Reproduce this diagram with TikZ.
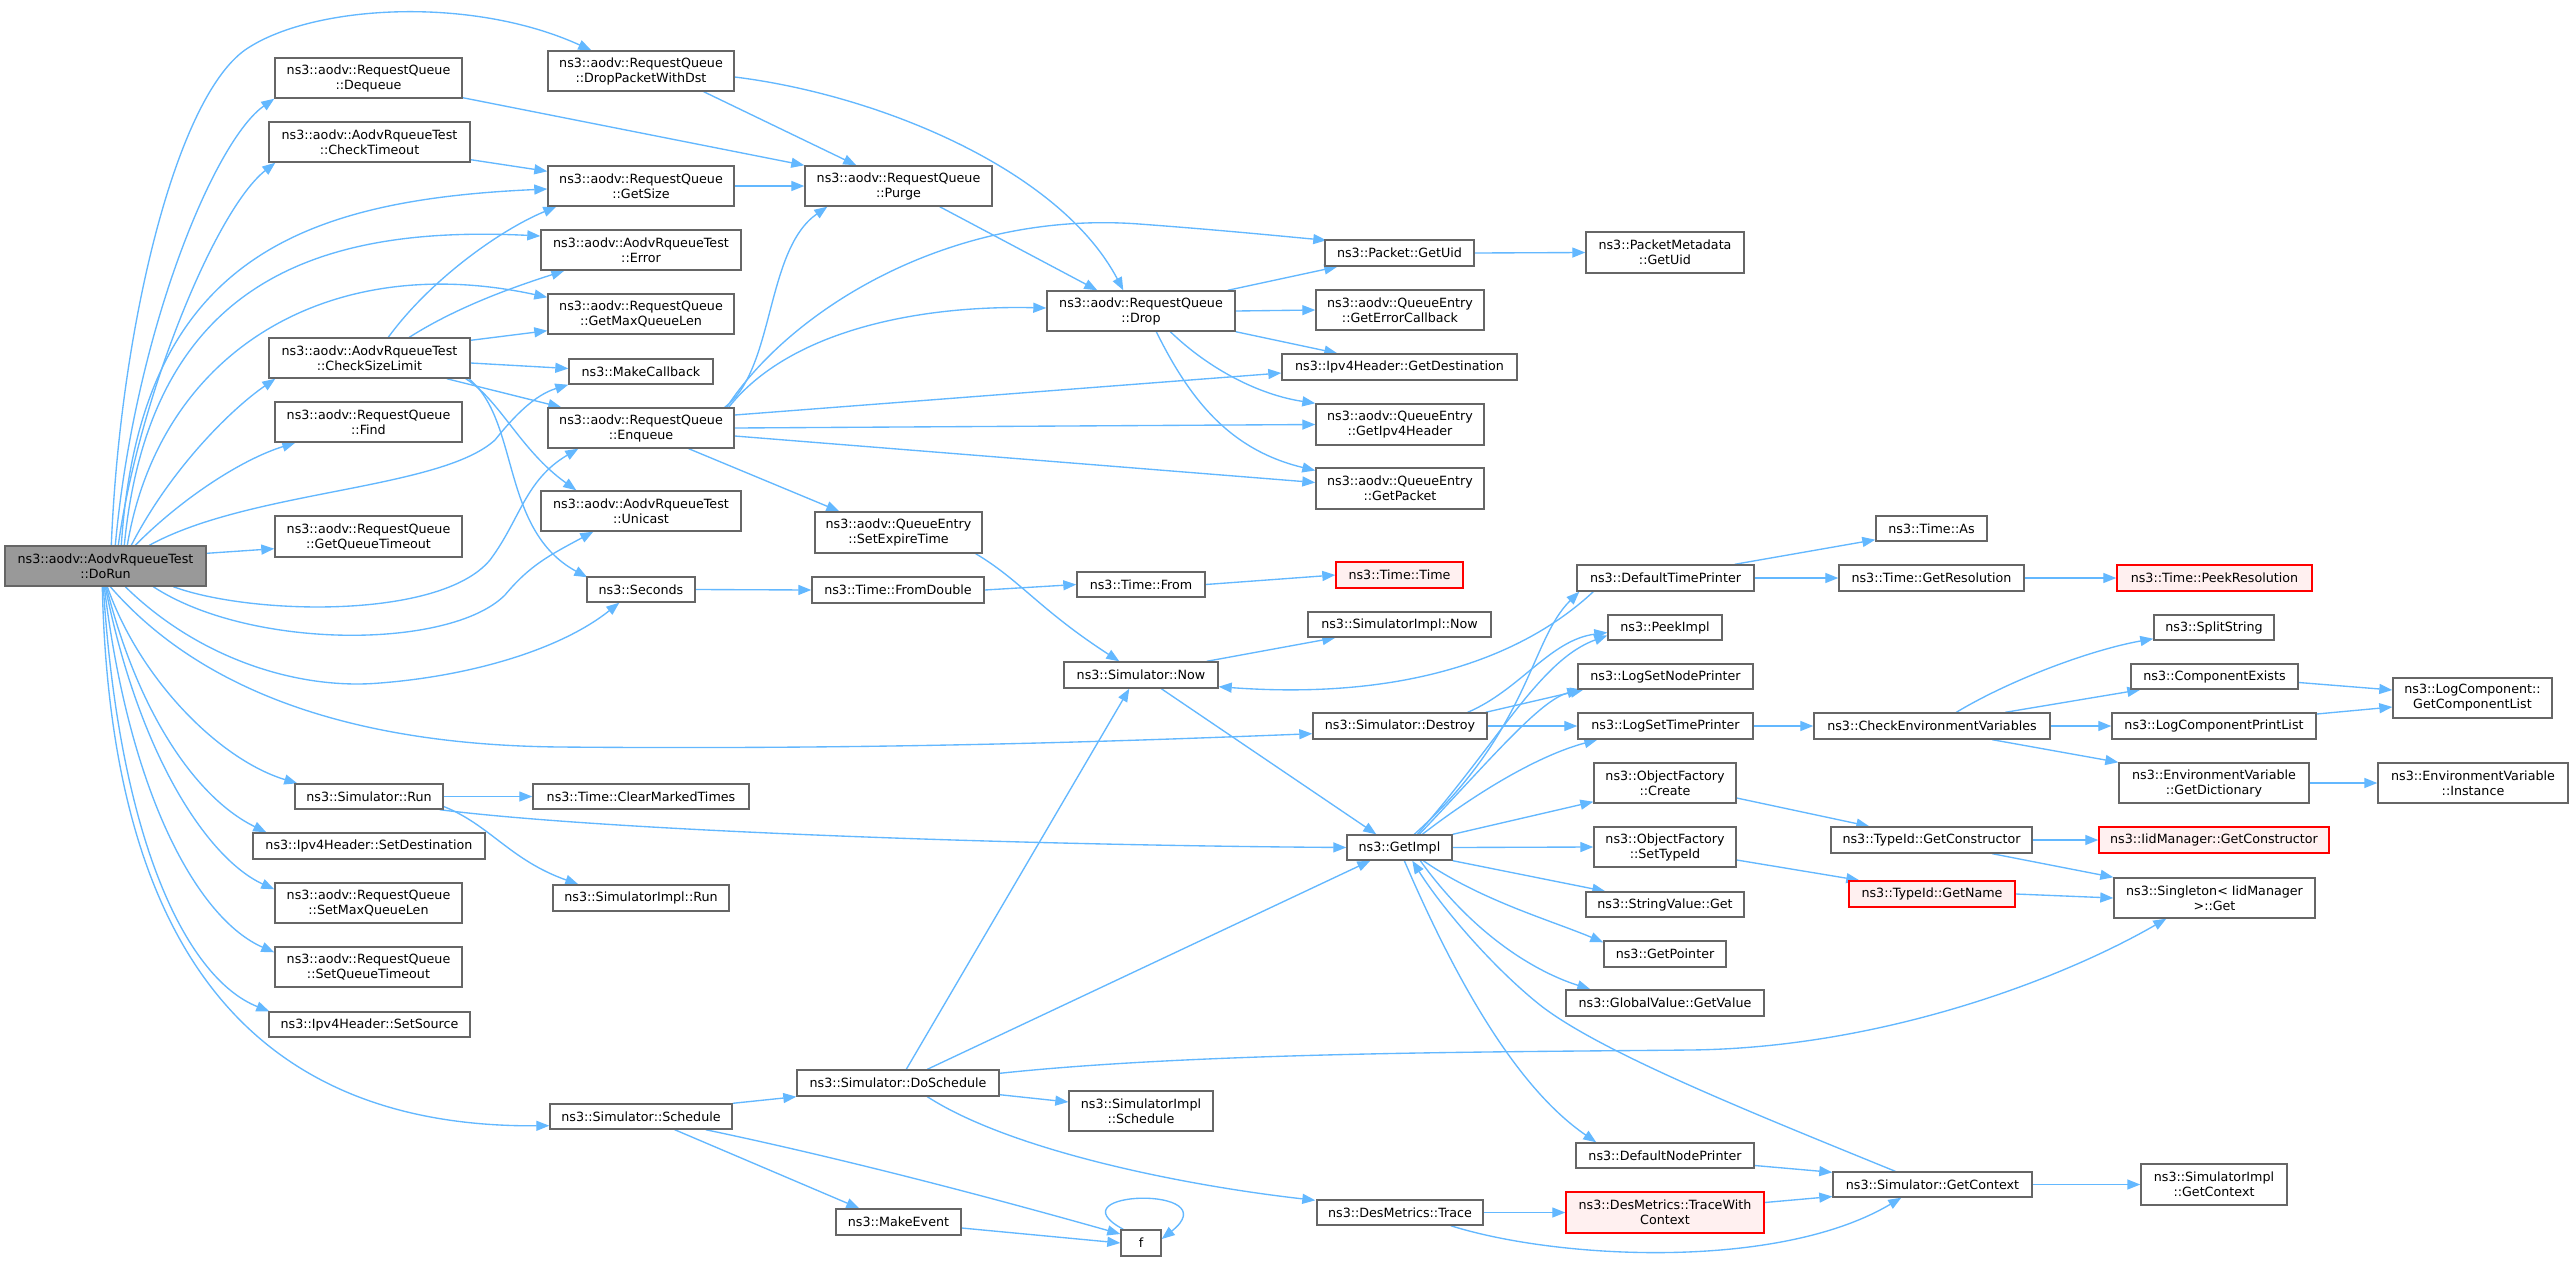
\documentclass[tikz,border=0pt]{standalone}
\usepackage{fontspec}
\setmainfont{DejaVu Sans}
\usetikzlibrary{arrows.meta,calc}
\definecolor{eblue}{RGB}{99,184,255}
\definecolor{bgray}{RGB}{102,102,102}
\definecolor{mgray}{RGB}{153,153,153}
\definecolor{rfill}{RGB}{255,240,240}
\pgfdeclarelayer{back}
\pgfdeclarelayer{bg}
\pgfsetlayers{back,bg,main}
\begin{document}
\begin{tikzpicture}[x=1pt,y=-1pt,
 box/.style={draw=bgray, fill=white, line width=1.4pt, inner sep=0pt, align=center, font=\fontsize{12.7}{15}\selectfont},
 sz/.style 2 args={minimum width=#1pt, minimum height=#2pt},
 redbox/.style={box, draw=red, fill=rfill},
 mainbox/.style={box, fill=mgray},
 e/.style={draw=eblue, line width=1.35pt, -{Triangle[length=13pt,width=10pt]}}
]
\begin{pgfonlayer}{back}
\fill[white] (0,0) rectangle (2573,1261);
\end{pgfonlayer}
\useasboundingbox (0,0) rectangle (2573,1261);
% column 1
\node[mainbox, sz={201}{40}] (D) at (105.5,566) {ns3::aodv::AodvRqueueTest\\::DoRun};
% column 2
\node[box, sz={187}{40}] (DQ) at (368.5,78) {ns3::aodv::RequestQueue\\::Dequeue};
\node[box, sz={201}{40}] (CT) at (369.5,142) {ns3::aodv::AodvRqueueTest\\::CheckTimeout};
\node[box, sz={201}{40}] (CSL) at (369.5,358) {ns3::aodv::AodvRqueueTest\\::CheckSizeLimit};
\node[box, sz={187}{40}] (Fnd) at (368.5,422) {ns3::aodv::RequestQueue\\::Find};
\node[box, sz={187}{41}] (GQT) at (368.5,536.5) {ns3::aodv::RequestQueue\\::GetQueueTimeout};
\node[box, sz={148}{25}] (Run) at (369,796.5) {ns3::Simulator::Run};
\node[box, sz={232}{26}] (SDst) at (369,846) {ns3::Ipv4Header::SetDestination};
\node[box, sz={187}{40}] (SMQ) at (368.5,903) {ns3::aodv::RequestQueue\\::SetMaxQueueLen};
\node[box, sz={187}{40}] (SQT) at (368.5,967) {ns3::aodv::RequestQueue\\::SetQueueTimeout};
\node[box, sz={201}{25}] (SSrc) at (369.5,1024.5) {ns3::Ipv4Header::SetSource};
% column 3
\node[box, sz={186}{40}] (DPW) at (641,71) {ns3::aodv::RequestQueue\\::DropPacketWithDst};
\node[box, sz={186}{40}] (GS) at (641,186) {ns3::aodv::RequestQueue\\::GetSize};
\node[box, sz={200}{40}] (Err) at (641,250) {ns3::aodv::AodvRqueueTest\\::Error};
\node[box, sz={186}{40}] (GMQ) at (641,314) {ns3::aodv::RequestQueue\\::GetMaxQueueLen};
\node[box, sz={144}{25}] (MC) at (641,371.5) {ns3::MakeCallback};
\node[box, sz={186}{40}] (Enq) at (641,428) {ns3::aodv::RequestQueue\\::Enqueue};
\node[box, sz={200}{40}] (Uni) at (641,511) {ns3::aodv::AodvRqueueTest\\::Unicast};
\node[box, sz={108}{25}] (Sec) at (641,589.5) {ns3::Seconds};
\node[box, sz={216}{25}] (CMT) at (641,796.5) {ns3::Time::ClearMarkedTimes};
\node[box, sz={176}{26}] (SIR) at (641,898) {ns3::SimulatorImpl::Run};
\node[box, sz={182}{25}] (Sch) at (641,1116.5) {ns3::Simulator::Schedule};
% column 4
\node[box, sz={187}{40}] (Pg) at (898.5,186) {ns3::aodv::RequestQueue\\::Purge};
\node[box, sz={167}{41}] (SET) at (898.5,532.5) {ns3::aodv::QueueEntry\\::SetExpireTime};
\node[box, sz={172}{26}] (FDbl) at (898,590) {ns3::Time::FromDouble};
\node[box, sz={202}{26}] (DS) at (898,1083) {ns3::Simulator::DoSchedule};
\node[box, sz={125}{26}] (ME) at (898.5,1222) {ns3::MakeEvent};
% column 5
\node[box, sz={188}{40}] (Drop) at (1141,311) {ns3::aodv::RequestQueue\\::Drop};
\node[box, sz={128}{25}] (TF) at (1141,584.5) {ns3::Time::From};
\node[box, sz={154}{26}] (SNow) at (1141,675) {ns3::Simulator::Now};
\node[box, sz={144}{40}] (SIS) at (1141,1111) {ns3::SimulatorImpl\\::Schedule};
\node[box, sz={40}{26}] (f) at (1141,1243) {f};
% column 6
\node[box, sz={149}{26}] (PGU) at (1399.5,253) {ns3::Packet::GetUid};
\node[box, sz={168}{40}] (GEC) at (1400,310) {ns3::aodv::QueueEntry\\::GetErrorCallback};
\node[box, sz={235}{26}] (GDst) at (1399.5,367) {ns3::Ipv4Header::GetDestination};
\node[box, sz={168}{41}] (GIH) at (1400,424.5) {ns3::aodv::QueueEntry\\::GetIpv4Header};
\node[box, sz={168}{41}] (GP) at (1400,488.5) {ns3::aodv::QueueEntry\\::GetPacket};
\node[redbox, sz={127}{26}] (TT) at (1399.5,575) {ns3::Time::Time};
\node[box, sz={183}{25}] (SINow) at (1399.5,624.5) {ns3::SimulatorImpl::Now};
\node[box, sz={174}{26}] (Des) at (1400,726) {ns3::Simulator::Destroy};
\node[box, sz={105}{25}] (GI) at (1399.5,847.5) {ns3::GetImpl};
\node[box, sz={166}{25}] (Tr) at (1400,1212.5) {ns3::DesMetrics::Trace};
% column 7
\node[box, sz={158}{41}] (PMG) at (1665,252.5) {ns3::PacketMetadata\\::GetUid};
\node[box, sz={177}{26}] (DTP) at (1665.5,578) {ns3::DefaultTimePrinter};
\node[box, sz={114}{25}] (PI) at (1665,627.5) {ns3::PeekImpl};
\node[box, sz={175}{25}] (LSNP) at (1665.5,676.5) {ns3::LogSetNodePrinter};
\node[box, sz={175}{26}] (LSTP) at (1665.5,726) {ns3::LogSetTimePrinter};
\node[box, sz={142}{40}] (OFC) at (1665,783) {ns3::ObjectFactory\\::Create};
\node[box, sz={142}{40}] (OFS) at (1665,847) {ns3::ObjectFactory\\::SetTypeId};
\node[box, sz={158}{25}] (SVG) at (1665,904.5) {ns3::StringValue::Get};
\node[box, sz={122}{26}] (GPtr) at (1665,954) {ns3::GetPointer};
\node[box, sz={198}{26}] (GVG) at (1665,1003) {ns3::GlobalValue::GetValue};
\node[box, sz={178}{25}] (DNP) at (1665,1155.5) {ns3::DefaultNodePrinter};
\node[redbox, sz={198}{41}] (TWC) at (1665,1212.5) {ns3::DesMetrics::TraceWith\\Context};
% column 8
\node[box, sz={111}{25}] (TA) at (1931.5,528.5) {ns3::Time::As};
\node[box, sz={185}{26}] (GR) at (1931.5,578) {ns3::Time::GetResolution};
\node[box, sz={236}{26}] (CEV) at (1932,726) {ns3::CheckEnvironmentVariables};
\node[box, sz={201}{26}] (TGC) at (1931.5,840) {ns3::TypeId::GetConstructor};
\node[redbox, sz={166}{26}] (GN) at (1932,894) {ns3::TypeId::GetName};
\node[box, sz={199}{25}] (GC) at (1932.5,1184.5) {ns3::Simulator::GetContext};
% column 9
\node[redbox, sz={195}{26}] (PR) at (2214.5,578) {ns3::Time::PeekResolution};
\node[box, sz={120}{25}] (SS) at (2214,627.5) {ns3::SplitString};
\node[box, sz={167}{25}] (CE) at (2214.5,676.5) {ns3::ComponentExists};
\node[box, sz={204}{26}] (LCPL) at (2214,726) {ns3::LogComponentPrintList};
\node[box, sz={190}{40}] (GD) at (2214,783) {ns3::EnvironmentVariable\\::GetDictionary};
\node[redbox, sz={230}{26}] (IGC) at (2214,840) {ns3::IidManager::GetConstructor};
\node[box, sz={201}{40}] (Sgl) at (2214.5,898) {ns3::Singleton< IidManager\\>::Get};
\node[box, sz={146}{41}] (SIGC) at (2214,1184.5) {ns3::SimulatorImpl\\::GetContext};
% column 10
\node[box, sz={159}{40}] (GCL) at (2472.5,698) {ns3::LogComponent::\\GetComponentList};
\node[box, sz={190}{40}] (Inst) at (2473,783) {ns3::EnvironmentVariable\\::Instance};

\begin{pgfonlayer}{bg}
% DoRun top
\draw[e] ($(D.north west)+(107,0)$) .. controls (120,330) and (175,100) .. (245,50) .. controls (310,5) and (470,-5) .. ($(DPW.north west)+(44,0)$);
\draw[e] ($(D.north west)+(111,0)$) .. controls (135,330) and (215,140) .. (DQ.south west);
\draw[e] ($(D.north west)+(114,0)$) .. controls (138,400) and (215,210) .. ($(CT.south west)+(7,0)$);
\draw[e] ($(D.north west)+(117,0)$) .. controls (140,260) and (300,200) .. ($(GS.west)+(0,3)$);
\draw[e] ($(D.north west)+(120,0)$) .. controls (150,280) and (320,225) .. ($(Err.west)+(0,-14)$);
\draw[e] ($(D.north west)+(123,0)$) .. controls (160,350) and (330,250) .. ($(GMQ.north west)+(0,4)$);
\draw[e] ($(D.north west)+(127,0)$) .. controls (170,470) and (230,410) .. ($(CSL.south west)+(7,0)$);
\draw[e] ($(D.north west)+(131,0)$) .. controls (180,500) and (240,460) .. ($(Fnd.south west)+(21,0)$);
\draw[e] ($(D.north west)+(145,0)$) .. controls (250,490) and (440,490) .. (495,440) .. controls (515,415) and (535,395) .. (MC.south west);
\draw[e] ($(D.north east)+(0,8)$) -- ($(GQT.south west)+(0,-9)$);
% DoRun bottom
\draw[e] ($(D.south west)+(169,0)$) .. controls (250,615) and (440,620) .. (490,560) .. controls (520,520) and (525,480) .. ($(Enq.south west)+(31,0)$);
\draw[e] ($(D.south west)+(149,0)$) .. controls (250,650) and (450,650) .. (505,595) .. controls (530,565) and (550,555) .. ($(Uni.south west)+(53,0)$);
\draw[e] ($(D.south west)+(121,0)$) .. controls (200,660) and (300,690) .. (380,683) .. controls (470,676) and (560,650) .. ($(Sec.south west)+(33,0)$);
\draw[e] ($(D.south west)+(106,0)$) .. controls (200,690) and (350,745) .. (560,747) .. controls (900,750) and (1150,740) .. ($(Des.south west)+(0,-6)$);
\draw[e] ($(D.south west)+(103,0)$) .. controls (140,680) and (220,760) .. ($(Run.north west)+(3,0)$);
\draw[e] ($(D.south west)+(102,0)$) .. controls (140,720) and (200,800) .. ($(SDst.north west)+(14,0)$);
\draw[e] ($(D.south west)+(101,0)$) .. controls (140,760) and (210,860) .. ($(SMQ.north west)+(0,7)$);
\draw[e] ($(D.south west)+(100,0)$) .. controls (130,800) and (200,920) .. ($(SQT.north west)+(0,6)$);
\draw[e] ($(D.south west)+(99,0)$) .. controls (120,850) and (190,980) .. ($(SSrc.north west)+(1,0)$);
\draw[e] ($(D.south west)+(98,0)$) .. controls (110,920) and (230,1128) .. ($(Sch.south west)+(0,-4)$);
% CheckSizeLimit
\draw[e] ($(CSL.north west)+(120,0)$) .. controls (430,280) and (500,230) .. ($(GS.south west)+(9,0)$);
\draw[e] ($(CSL.north west)+(141,0)$) .. controls (460,305) and (520,285) .. ($(Err.south west)+(24,0)$);
\draw[e] ($(CSL.north east)+(0,3)$) -- ($(GMQ.south west)+(0,-4)$);
\draw[e] ($(CSL.east)+(0,5)$) -- ($(MC.west)+(0,-3)$);
\draw[e] ($(CSL.south east)+(-24,0)$) -- ($(Enq.north west)+(14,0)$);
\draw[e] ($(CSL.south east)+(-5,0)$) .. controls (500,400) and (520,450) .. ($(Uni.north west)+(36,0)$);
\draw[e] ($(CSL.south east)+(-2,0)$) .. controls (520,420) and (500,530) .. ($(Sec.north west)+(1,1)$);
% queue functions
\draw[e] ($(CT.south east)+(0,-3)$) -- ($(GS.north west)+(0,6)$);
\draw[e] ($(DQ.south east)+(0,-1)$) -- (Pg.north west);
\draw[e] ($(DPW.south east)+(-31,0)$) -- ($(Pg.north west)+(52,0)$);
\draw[e] ($(DPW.east)+(0,6)$) .. controls (880,95) and (1060,170) .. ($(Drop.north west)+(77,0)$);
\draw[e] (GS.east) -- (Pg.west);
\draw[e] ($(Pg.south east)+(-53,0)$) -- ($(Drop.north west)+(51,0)$);
% Enqueue
\draw[e] ($(Enq.north east)+(-10,0)$) .. controls (775,370) and (765,250) .. ($(Pg.south west)+(23,0)$);
\draw[e] ($(Enq.north east)+(-8,0)$) .. controls (790,310) and (950,210) .. (1139,224) .. controls (1220,230) and (1280,236) .. ($(PGU.north west)+(2,1)$);
\draw[e] ($(Enq.north east)+(-6,0)$) .. controls (790,330) and (920,305) .. ($(Drop.west)+(0,-3)$);
\draw[e] ($(Enq.east)+(0,-13)$) -- ($(GDst.west)+(0,6)$);
\draw[e] (Enq.east) -- (GIH.west);
\draw[e] ($(Enq.east)+(0,8)$) -- ($(GP.west)+(0,-6)$);
\draw[e] ($(Enq.south east)+(-46,0)$) -- ($(SET.north west)+(25,0)$);
% Drop
\draw[e] ($(Drop.north east)+(-8,0)$) -- ($(PGU.south west)+(13,0)$);
\draw[e] (Drop.east) -- (GEC.west);
\draw[e] (Drop.south east) -- ($(GDst.north west)+(56,0)$);
\draw[e] ($(Drop.south west)+(124,0)$) .. controls (1210,370) and (1260,395) .. (GIH.north west);
\draw[e] ($(Drop.south west)+(110,0)$) .. controls (1190,400) and (1230,450) .. ($(GP.west)+(0,-18)$);
\draw[e] (PGU.east) -- (PMG.west);
% time
\draw[e] (Sec.east) -- (FDbl.west);
\draw[e] (FDbl.east) -- (TF.west);
\draw[e] (TF.east) -- (TT.west);
\draw[e] ($(SET.south east)+(-7,0)$) .. controls (1020,580) and (1040,610) .. ($(SNow.north west)+(56,0)$);
\draw[e] ($(SNow.north east)+(-12,0)$) -- ($(SINow.south west)+(28,0)$);
\draw[e] ($(SNow.south west)+(98,0)$) -- ($(GI.north west)+(30,0)$);
\draw[e] ($(DTP.south west)+(17,0)$) .. controls (1520,660) and (1400,700) .. ($(SNow.south east)+(0,-2)$);
% Destroy
\draw[e] ($(Des.north east)+(-20,0)$) .. controls (1520,690) and (1550,640) .. ($(PI.west)+(0,5)$);
\draw[e] ($(Des.north east)+(-2,0)$) -- ($(LSNP.south west)+(6,0)$);
\draw[e] (Des.east) -- (LSTP.west);
% GetImpl
\draw[e] ($(GI.north west)+(68,0)$) .. controls (1530,730) and (1530,640) .. ($(DTP.south west)+(3,0)$);
\draw[e] ($(GI.north west)+(71,0)$) .. controls (1500,740) and (1540,660) .. ($(PI.west)+(0,8)$);
\draw[e] ($(GI.north west)+(73,0)$) .. controls (1490,760) and (1540,700) .. ($(LSNP.south west)+(3,0)$);
\draw[e] ($(GI.north west)+(76,0)$) .. controls (1480,790) and (1540,755) .. ($(LSTP.south west)+(20,0)$);
\draw[e] (GI.north east) -- ($(OFC.south west)+(0,-2)$);
\draw[e] (GI.east) -- (OFS.west);
\draw[e] (GI.south east) -- ($(SVG.north west)+(20,0)$);
\draw[e] ($(GI.south west)+(77,0)$) .. controls (1480,900) and (1550,920) .. ($(GPtr.north west)+(0,2)$);
\draw[e] ($(GI.south west)+(74,0)$) .. controls (1470,930) and (1530,970) .. ($(GVG.north west)+(25,0)$);
\draw[e] ($(GI.south west)+(58,0)$) .. controls (1460,990) and (1520,1090) .. ($(DNP.north west)+(21,0)$);
\draw[e] ($(GC.north west)+(63,0)$) .. controls (1750,1112) and (1600,1052) .. (1540,1005) .. controls (1490,965) and (1440,905) .. ($(GI.south west)+(66,0)$);
% Run
\draw[e] (Run.east) -- (CMT.west);
\draw[e] ($(Run.south east)+(-4,0)$) .. controls (600,830) and (1000,845) .. (GI.west);
\draw[e] ($(Run.east)+(0,10)$) .. controls (490,825) and (510,860) .. ($(SIR.north west)+(26,0)$);
% Schedule
\draw[e] (Sch.north east) -- (DS.south west);
\draw[e] ($(Sch.south east)+(-27,0)$) .. controls (850,1160) and (1000,1200) .. ($(f.west)+(0,-9)$);
\draw[e] ($(Sch.south east)+(-58,0)$) -- ($(ME.north west)+(24,0)$);
\draw[e] ($(ME.east)+(0,6)$) -- (f.west);
\draw[e] ($(f.north west)+(3,0)$) .. controls (1050,1190) and (1230,1185) .. ($(f.east)+(0,-4)$);
% DoSchedule
\draw[e] ($(DS.north west)+(110,0)$) -- ($(SNow.south west)+(66,0)$);
\draw[e] ($(DS.north west)+(131,0)$) -- ($(GI.south west)+(24,0)$);
\draw[e] ($(DS.south east)+(0,-2)$) -- ($(SIS.west)+(0,-9)$);
\draw[e] ($(DS.south west)+(131,0)$) .. controls (1010,1150) and (1180,1185) .. ($(Tr.north west)+(-1,1)$);
\draw[e] ($(DS.north east)+(0,4)$) .. controls (1200,1052) and (1500,1052) .. (1690,1050) .. controls (1880,1048) and (2060,980) .. ($(Sgl.south west)+(53,0)$);
% Trace / context
\draw[e] (Tr.east) -- (TWC.west);
\draw[e] ($(Tr.south east)+(-33,0)$) .. controls (1560,1260) and (1780,1270) .. ($(GC.south west)+(69,0)$);
\draw[e] ($(TWC.east)+(0,-10)$) -- ($(GC.west)+(0,12)$);
\draw[e] ($(DNP.east)+(0,10)$) -- ($(GC.north west)+(0,1)$);
\draw[e] (GC.east) -- (SIGC.west);
% right side
\draw[e] ($(DTP.north east)+(-20,0)$) -- ($(TA.south west)+(0,-2)$);
\draw[e] (DTP.east) -- (GR.west);
\draw[e] (GR.east) -- (PR.west);
\draw[e] (LSTP.east) -- (CEV.west);
\draw[e] ($(CEV.north west)+(143,0)$) .. controls (2010,680) and (2090,650) .. ($(SS.south west)+(0,-2)$);
\draw[e] ($(CEV.north west)+(192,0)$) -- ($(CE.south west)+(10,0)$);
\draw[e] (CEV.east) -- (LCPL.west);
\draw[e] ($(CEV.south west)+(179,0)$) -- (GD.north west);
\draw[e] ($(CE.east)+(0,6)$) -- ($(GCL.west)+(0,-8)$);
\draw[e] ($(LCPL.east)+(0,-12)$) -- ($(GCL.west)+(0,9)$);
\draw[e] (GD.east) -- (Inst.west);
\draw[e] ($(OFC.east)+(0,15)$) -- ($(TGC.north west)+(39,0)$);
\draw[e] (TGC.east) -- (IGC.west);
\draw[e] ($(TGC.south west)+(162,0)$) -- (Sgl.north west);
\draw[e] ($(OFS.east)+(0,13)$) -- ($(GN.north west)+(11,0)$);
\draw[e] (GN.east) -- (Sgl.west);
\end{pgfonlayer}
\end{tikzpicture}
\end{document}
